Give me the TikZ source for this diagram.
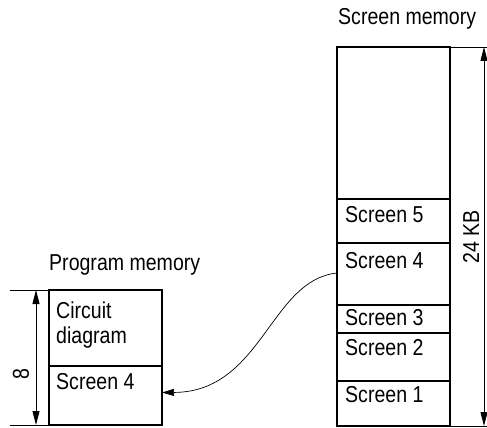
\documentclass[tikz,border=0pt]{standalone}
\usepackage{fontspec}
\setmainfont{Liberation Sans}[FakeStretch=0.85]
\usetikzlibrary{arrows.meta}
\begin{document}
\begin{tikzpicture}[x=1pt,y=-1pt,
  cell/.style={draw, line width=1.8pt, rectangle, inner sep=0pt, outer sep=0pt, minimum width=113pt, anchor=north west},
  txt/.style={inner sep=0pt, anchor=base west, font=\fontsize{23pt}{27pt}\selectfont},
  rtxt/.style={inner sep=0pt, rotate=90, font=\fontsize{23pt}{27pt}\selectfont},
  dim/.style={line width=0.9pt},
  dimarrow/.style={line width=0.9pt, {Triangle[length=14pt,width=7pt]}-{Triangle[length=14pt,width=7pt]}},
  link/.style={line width=0.7pt, -{Triangle[length=12pt,width=7pt]}}]
\useasboundingbox (0,0) rectangle (487,428);
% screen memory column
\node[cell, minimum height=152pt] (top) at (337,47) {};
\node[cell, minimum height=44pt] (s5) at (337,199) {};
\node[cell, minimum height=62pt] (s4) at (337,243) {};
\node[cell, minimum height=28pt] (s3) at (337,305) {};
\node[cell, minimum height=48pt] (s2) at (337,333) {};
\node[cell, minimum height=45pt] (s1) at (337,381) {};
\node[txt] (t5) at (345,222) {Screen 5};
\node[txt] (t4) at (345,268) {Screen 4};
\node[txt] (t3) at (345,325) {Screen 3};
\node[txt] (t2) at (345,355) {Screen 2};
\node[txt] (t1) at (345,402) {Screen 1};
\node[txt] (smem) at (338,25) {Screen memory};
% program memory column
\node[cell, minimum height=76pt] (cd) at (49,290) {};
\node[cell, minimum height=59pt] (p4) at (49,366) {};
\node[txt] (tc) at (56,318) {Circuit};
\node[txt] (td) at (56,343) {diagram};
\node[txt] (tp4) at (56,389) {Screen 4};
\node[txt] (pmem) at (49,270) {Program memory};
% dimension lines left
\coordinate (la) at (10,290);
\coordinate (lb) at (10,425);
\coordinate (da) at (36,290);
\coordinate (db) at (36,425);
\draw[dim] (la) -- (cd.north west);
\draw[dim] (lb) -- (p4.south west);
\draw[dimarrow] (da) -- (db);
\node[rtxt] (eight) at (21,374) {8};
% dimension lines right
\coordinate (ra) at (487,47);
\coordinate (rb) at (487,426);
\coordinate (ea) at (484,47);
\coordinate (eb) at (484,426);
\draw[dim] (top.north east) -- (ra);
\draw[dim] (s1.south east) -- (rb);
\draw[dimarrow] (ea) -- (eb);
\node[rtxt] (kb) at (471,237) {24 KB};
% link
\draw[link] ([yshift=1pt]s4.west) .. controls (270,280) and (262,392) .. ([yshift=3pt]p4.east);
\end{tikzpicture}
\end{document}
